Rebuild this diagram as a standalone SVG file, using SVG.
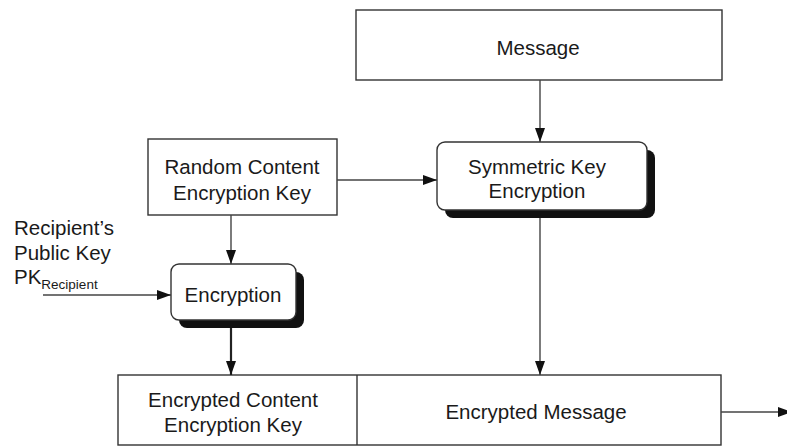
<svg xmlns="http://www.w3.org/2000/svg" width="787" height="446" viewBox="0 0 787 446">
<defs>
<style>
.box{fill:#fff;stroke:#333;stroke-width:1.4}
.shadow{fill:#111}
.t{font-family:"Liberation Sans",Arial,sans-serif;font-size:20.5px;fill:#1a1a1a}
.c{text-anchor:middle}
.line{stroke:#444;stroke-width:1.4;fill:none}
.thick{stroke:#222;stroke-width:2.2;fill:none}
</style>
<marker id="ah" markerWidth="14" markerHeight="10" refX="14" refY="5" orient="auto" markerUnits="userSpaceOnUse">
<path d="M0,0 L14,5 L0,10 Z" fill="#111"/>
</marker>
</defs>
<rect width="787" height="446" fill="#fff"/>
<g id="message">
<rect class="box" x="356" y="10" width="366" height="70"/>
<text class="t c" x="538" y="55">Message</text>
</g>
<g id="random-key">
<rect class="box" x="148" y="139" width="189" height="76"/>
<text class="t c" x="242" y="174">Random Content</text>
<text class="t c" x="242" y="200">Encryption Key</text>
</g>
<g id="symmetric">
<rect class="shadow" x="445" y="150" width="210" height="68" rx="8"/>
<rect class="box" x="437" y="142" width="210" height="68" rx="8"/>
<text class="t c" x="537" y="174">Symmetric Key</text>
<text class="t c" x="537" y="198">Encryption</text>
</g>
<g id="recipient-key">
<text class="t" x="14" y="235">Recipient’s</text>
<text class="t" x="14" y="260">Public Key</text>
<text class="t" x="14" y="284">PK<tspan font-size="13.5px" dy="5">Recipient</tspan></text>
</g>
<g id="encryption">
<rect class="shadow" x="179" y="272" width="125" height="56" rx="8"/>
<rect class="box" x="171" y="264" width="125" height="56" rx="8"/>
<text class="t c" x="233" y="302">Encryption</text>
</g>
<g id="output">
<rect class="box" x="118" y="375" width="603" height="70"/>
<line class="box" x1="357" y1="375" x2="357" y2="445"/>
<text class="t c" x="233" y="407">Encrypted Content</text>
<text class="t c" x="233" y="432">Encryption Key</text>
<text class="t c" x="536" y="419">Encrypted Message</text>
</g>
<g id="connectors">
<line class="line" x1="540" y1="80" x2="540" y2="142" marker-end="url(#ah)"/>
<line class="line" x1="337" y1="180" x2="437" y2="180" marker-end="url(#ah)"/>
<line class="line" x1="231" y1="215" x2="231" y2="264" marker-end="url(#ah)"/>
<line class="line" x1="43" y1="295" x2="171" y2="295" marker-end="url(#ah)"/>
<line class="thick" x1="231" y1="328" x2="231" y2="375" marker-end="url(#ah)"/>
<line class="line" x1="540" y1="218" x2="540" y2="375" marker-end="url(#ah)"/>
<line class="line" x1="721" y1="412" x2="792" y2="412" marker-end="url(#ah)"/>
</g>
</svg>
